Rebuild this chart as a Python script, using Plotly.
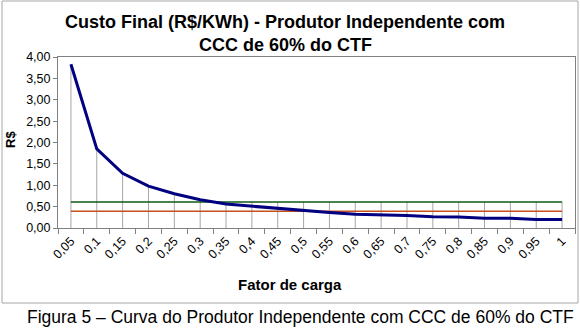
import plotly.graph_objects as go

# ---- data ----
fator_carga = ["0,05", "0,1", "0,15", "0,2", "0,25", "0,3", "0,35", "0,4", "0,45", "0,5",
               "0,55", "0,6", "0,65", "0,7", "0,75", "0,8", "0,85", "0,9", "0,95", "1"]
custo_final = [3.83, 1.85, 1.28, 0.98, 0.80, 0.66, 0.56, 0.51, 0.45, 0.40,
               0.36, 0.32, 0.31, 0.29, 0.265, 0.26, 0.23, 0.23, 0.20, 0.20]
linha_verde = [0.61, 0.61, 0.61, 0.61, 0.61, 0.61, 0.61, 0.61, 0.61, 0.61,
               0.61, 0.61, 0.61, 0.61, 0.61, 0.61, 0.61, 0.61, 0.61, 0.61]
linha_laranja = [0.39, 0.39, 0.39, 0.39, 0.39, 0.39, 0.39, 0.39, 0.39, 0.39,
                 0.39, 0.39, 0.39, 0.39, 0.39, 0.39, 0.39, 0.39, 0.39, 0.39]
y_ticks = [0, 0.5, 1.0, 1.5, 2.0, 2.5, 3.0, 3.5, 4.0]

FONT = "Liberation Sans, Arial, sans-serif"

# geometry of the plot area (px)
W, H = 580, 334
L, R, T, B = 58, 575, 57, 228
def px(x):
    return (x - L) / (R - L)
def py(y):
    return (B - y) / (B - T)

fig = go.Figure()

# drop lines from the highest series value down to the axis
dx, dy = [], []
for c, a, b, d in zip(fator_carga, custo_final, linha_verde, linha_laranja):
    dx += [c, c, None]
    dy += [0, max(a, b, d), None]
fig.add_trace(go.Scatter(x=dx, y=dy, mode="lines",
                         line=dict(color="#A6A6A6", width=1),
                         hoverinfo="skip", showlegend=False))

fig.add_trace(go.Scatter(x=fator_carga, y=linha_laranja, mode="lines",
                         line=dict(color="#C4501E", width=1.5), showlegend=False))
fig.add_trace(go.Scatter(x=fator_carga, y=linha_verde, mode="lines",
                         line=dict(color="#0E5A12", width=1.5), showlegend=False))
fig.add_trace(go.Scatter(x=fator_carga, y=custo_final, mode="lines",
                         line=dict(color="#000080", width=3), showlegend=False))

fig.update_layout(
    width=W, height=H,
    margin=dict(l=L, r=W - R, t=T, b=H - B, pad=0, autoexpand=False),
    paper_bgcolor="white", plot_bgcolor="white",
    separators=",.",
    font=dict(family=FONT, size=12, color="black"),
    xaxis=dict(type="category", range=[-0.5, 19.5], tickson="boundaries",
               automargin=False,
               ticks="outside", ticklen=5, tickcolor="#808080", tickangle=-45,
               showgrid=False, showline=True, linecolor="#808080", linewidth=1,
               mirror=True, zeroline=False,
               tickfont=dict(family=FONT, size=12.5, color="black")),
    yaxis=dict(range=[0, 4], tickvals=y_ticks, tickformat=".2f",
               automargin=False,
               ticks="outside", ticklen=4, tickcolor="#808080",
               showgrid=False, showline=True, linecolor="#808080", linewidth=1,
               mirror=True, zeroline=False,
               tickfont=dict(family=FONT, size=12.5, color="black")),
    shapes=[dict(type="rect", xref="paper", yref="paper",
                 x0=px(2), x1=px(578), y0=py(303), y1=py(1),
                 line=dict(color="#A6A6A6", width=1), fillcolor="rgba(0,0,0,0)",
                 layer="below")],
    annotations=[
        dict(text="<b>Custo Final (R$/KWh) - Produtor Independente com</b>",
             xref="paper", yref="paper", x=px(285), y=py(22),
             showarrow=False, font=dict(family=FONT, size=18, color="black"),
             xanchor="center", yanchor="middle"),
        dict(text="<b>CCC de 60% do CTF</b>",
             xref="paper", yref="paper", x=px(285), y=py(45),
             showarrow=False, font=dict(family=FONT, size=18, color="black"),
             xanchor="center", yanchor="middle"),
        dict(text="<b>R$</b>", textangle=-90,
             xref="paper", yref="paper", x=px(10), y=py(140),
             showarrow=False, font=dict(family=FONT, size=13, color="black"),
             xanchor="center", yanchor="middle"),
        dict(text="<b>Fator de carga</b>",
             xref="paper", yref="paper", x=px(290), y=py(284),
             showarrow=False, font=dict(family=FONT, size=15, color="black"),
             xanchor="center", yanchor="middle"),
        dict(text="Figura 5 – Curva do Produtor Independente com CCC de 60% do CTF",
             xref="paper", yref="paper", x=px(300), y=py(317),
             showarrow=False, font=dict(family=FONT, size=17.5, color="black"),
             xanchor="center", yanchor="middle"),
    ],
)

fig.write_html("out.html",
               config={"displayModeBar": False, "staticPlot": True},
               post_script="document.body.style.margin='0';document.body.style.padding='0';")
